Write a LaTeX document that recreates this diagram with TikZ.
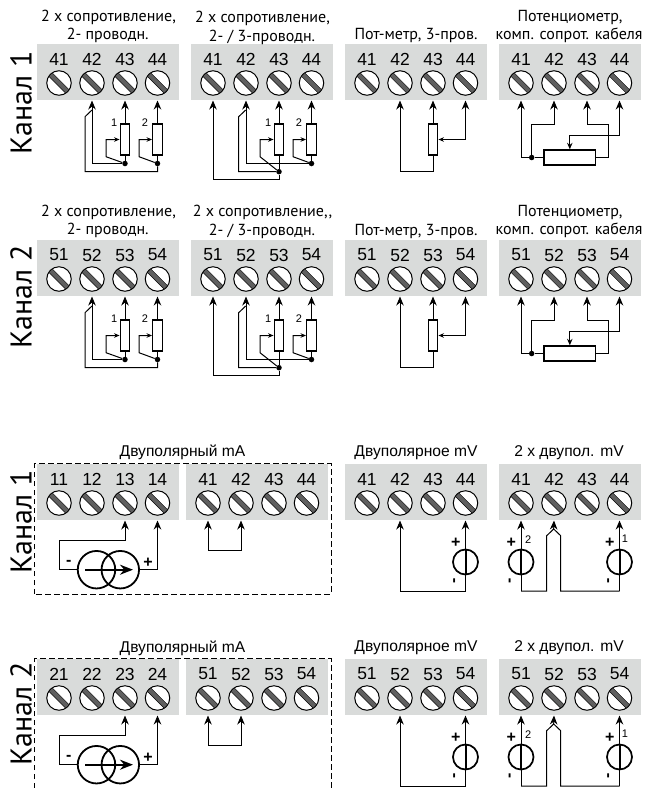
\documentclass[tikz,border=0pt]{standalone}
\usepackage{fontspec}
\setmainfont{Liberation Sans}
\newfontfamily\titlefont{PT Sans}
\usetikzlibrary{arrows.meta}

\definecolor{blockgray}{RGB}{217,219,218}
\definecolor{slotgray}{RGB}{95,95,95}

\tikzset{
  blockbox/.style={fill=blockgray, anchor=north west, minimum width=142pt, minimum height=56pt, inner sep=0pt},
  screw/.style={circle, draw=black, line width=1pt, fill=white, minimum size=24.5pt, inner sep=0pt},
  slotbar/.style={draw=black, line width=0.5pt, fill=slotgray, minimum width=24pt, minimum height=4.8pt, inner sep=0pt},
  termnum/.style={font=\fontsize{17.5}{18}\selectfont, inner sep=0pt},
  headtext/.style={font=\titlefont\fontsize{16}{17}\selectfont, inner sep=0pt},
  headtextb/.style={font=\fontsize{15.6}{16}\selectfont, inner sep=0pt},
  chantext/.style={font=\titlefont\fontsize{30}{31}\selectfont, rotate=90, inner sep=0pt},
  smalltext/.style={font=\fontsize{11}{12}\selectfont, inner sep=0pt},
  signtext/.style={font=\bfseries\fontsize{16}{17}\selectfont, inner sep=0pt},
  wire/.style={line width=1pt},
  bigtip/.style={wire, -{Stealth[length=9pt,width=7.5pt]}},
  smalltip/.style={wire, -{Stealth[length=5.5pt,width=4.5pt]}},
  resbox/.style={draw=black, line width=1.4pt, fill=white, minimum width=9.5pt, minimum height=31pt, inner sep=0pt},
  potbox/.style={draw=black, line width=1.4pt, fill=white, minimum width=51.5pt, minimum height=15pt, inner sep=0pt},
  junction/.style={circle, fill=black, minimum size=5.5pt, inner sep=0pt},
  mvring/.style={circle, draw=black, line width=1.7pt, minimum size=25pt, inner sep=0pt},
  maring/.style={circle, draw=black, line width=1.8pt, minimum size=37.5pt, inner sep=0pt},
  fence/.style={line width=0.8pt, dash pattern=on 5.5pt off 3.5pt}
}

% name, left, top, first digit of the numbers
\newcommand{\terminals}[4]{
  \node[blockbox] (#1) at (#2,#3) {};
  \begin{scope}[shift={(#2,#3)}]
    \foreach \n/\x in {1/22,2/55,3/88,4/120.5}{
      \node[termnum] (#1n\n) at (\x,15) {#4\n};
      \node[screw] (#1s\n) at (\x,39) {};
      \node[slotbar, rotate=-45] (#1b\n) at (\x,39) {};
      \coordinate (#1p\n) at (\x,56.5);
    }
  \end{scope}
}

% the two resistors and what they share
\newcommand{\respair}[1]{
  \node[resbox] (#1r1) at (88,95.5) {};
  \node[resbox] (#1r2) at (120.5,95.5) {};
  \node[smalltext] (#1a1) at (77.3,78.7) {1};
  \node[smalltext] (#1a2) at (108,78.7) {2};
  \coordinate (#1w1) at (69,112.7);
  \coordinate (#1w2) at (102,112.7);
  \draw[bigtip] (#1r1.north) -- (#1p3);
  \draw[bigtip] (#1r2.north) -- (#1p4);
}

\newcommand{\twowire}[1]{
  \begin{scope}[shift={(#1.north west)}]
    \respair{#1}
    \node[junction] (#1d1) at (88,119.5) {};
    \node[junction] (#1d2) at (120.5,119.5) {};
    \coordinate (#1c1) at (120.5,127.7);
    \coordinate (#1k1) at (48,72.7);
    \coordinate (#1k2) at (55,66);
    \draw[wire] (#1r1.south) -- (#1d1);
    \draw[wire] (#1r2.south) -- (#1d2);
    \draw[bigtip] (#1d1) -| (#1p2);
    \draw[wire] (#1d2) -- (#1c1) -| (#1k1) -- (#1k2);
    \draw[smalltip] (#1d1) -- (#1w1) |- (#1r1.west);
    \draw[smalltip] (#1d2) -- (#1w2) |- (#1r2.west);
  \end{scope}
}

\newcommand{\threewire}[1]{
  \begin{scope}[shift={(#1.north west)}]
    \respair{#1}
    \node[junction] (#1d1) at (88,127.7) {};
    \node[junction] (#1d2) at (120.5,119.5) {};
    \coordinate (#1c1) at (88,135);
    \coordinate (#1k1) at (47.7,72.7);
    \coordinate (#1k2) at (54.7,66);
    \draw[wire] (#1r1.south) -- (#1d1);
    \draw[wire] (#1r2.south) -- (#1d2);
    \draw[bigtip] (#1d2) -| (#1p2);
    \draw[bigtip] (#1d1) -- (#1c1) -| (#1p1);
    \draw[wire] (#1d1) -| (#1k1) -- (#1k2);
    \draw[smalltip] (#1d1) -- (#1w1) |- (#1r1.west);
    \draw[smalltip] (#1d2) -- (#1w2) |- (#1r2.west);
  \end{scope}
}

\newcommand{\potthree}[1]{
  \begin{scope}[shift={(#1.north west)}]
    \node[resbox] (#1r1) at (88,95.5) {};
    \coordinate (#1c1) at (88,127.7);
    \coordinate (#1c2) at (120.5,95.5);
    \draw[bigtip] (#1r1.north) -- (#1p3);
    \draw[bigtip] (#1r1.south) -- (#1c1) -| (#1p2);
    \draw[bigtip] (#1c2) -- (#1p4);
    \draw[smalltip] (#1c2) -- (#1r1.east);
  \end{scope}
}

\newcommand{\potcomp}[1]{
  \begin{scope}[shift={(#1.north west)}]
    \node[potbox] (#1r1) at (70.8,113.5) {};
    \node[junction] (#1d1) at (32.7,113.5) {};
    \coordinate (#1c1) at (109.3,113.5);
    \coordinate (#1c2) at (109.3,80);
    \coordinate (#1c3) at (32.7,80);
    \coordinate (#1c4) at (70.8,91);
    \draw[bigtip] (#1r1.west) -- (#1d1) -| (#1p1);
    \draw[bigtip] (#1d1) -- (#1c3) -| (#1p2);
    \draw[bigtip] (#1r1.east) -- (#1c1) -- (#1c2) -| (#1p3);
    \draw[bigtip] (#1c4) -| (#1p4);
    \draw[wire, -{Stealth[length=6.5pt,width=5.5pt]}] (#1c4) -- (#1r1.north);
  \end{scope}
}

% signs and ring of one mV source
\newcommand{\mvsource}[2]{
  \node[mvring] (#1v) at (#2,98) {};
  \draw[line width=2pt] (#1v.north) -- (#1v.south);
  \node[signtext] (#1plus) at ([xshift=-9.7pt,yshift=19pt]#1v.center) {+};
  \node[signtext, rotate=90] (#1minus) at ([xshift=-9.7pt,yshift=-18.5pt]#1v.center) {-};
}

\newcommand{\mvone}[1]{
  \begin{scope}[shift={(#1.north west)}]
    \mvsource{#1}{120.5}
    \coordinate (#1c1) at (120.5,127);
    \draw[bigtip] (#1c1) -- (#1p4);
    \draw[bigtip] (#1c1) -| (#1p2);
  \end{scope}
}

\newcommand{\mvtwo}[1]{
  \begin{scope}[shift={(#1.north west)}]
    \mvsource{#1a}{22}
    \mvsource{#1b}{120.5}
    \node[smalltext] (#1l2) at (29.3,75.5) {2};
    \node[smalltext] (#1l1) at (126,75) {1};
    \coordinate (#1c1) at (22,127);
    \coordinate (#1c2) at (47.7,127);
    \coordinate (#1c3) at (47.7,71.7);
    \coordinate (#1c4) at (61.7,127);
    \coordinate (#1c5) at (61.7,71.7);
    \coordinate (#1c6) at (120.5,127);
    \coordinate (#1c7) at (54.7,65);
    \draw[bigtip] (#1c1) -- (#1p1);
    \draw[bigtip] (#1c6) -- (#1p4);
    \draw[wire] (#1c1) -- (#1c2) -- (#1c3) -- (#1c7) -- (#1c5) -- (#1c4) -- (#1c6);
    \draw[bigtip] (#1c7) -- (#1p2);
  \end{scope}
}

\newcommand{\maloop}[2]{
  \begin{scope}[shift={(#1.north west)}]
    \node[maring] (#1m1) at (59.5,105.7) {};
    \node[maring] (#1m2) at (83.3,105.7) {};
    \node[signtext] (#1plus) at (111,99) {+};
    \node[signtext] (#1minus) at (31.7,98.5) {-};
    \coordinate (#1c1) at (22.7,76.7);
    \coordinate (#1a1) at (48.3,105.7);
    \coordinate (#1a2) at (96,105.7);
    \draw[bigtip] (#1m1.west) -| (#1c1) -| (#1p3);
    \draw[bigtip] (#1m2.east) -| (#1p4);
    \draw[line width=1.8pt, -{Stealth[length=13pt,width=10pt]}] (#1a1) -- (#1a2);
  \end{scope}
  \begin{scope}[shift={(#2.north west)}]
    \coordinate (#2c1) at (22,86.3);
    \draw[bigtip] (#2c1) -- (#2p1);
    \draw[bigtip] (#2c1) -| (#2p2);
  \end{scope}
}

\begin{document}
\begin{tikzpicture}[x=1pt, y=-1pt]
  \useasboundingbox (0,0) rectangle (646,788);

  % resistance rows
  \foreach \rowname/\rowtop/\dig in {u/44/4,v/240/5}{
    \terminals{\rowname a}{37}{\rowtop}{\dig}
    \terminals{\rowname b}{191}{\rowtop}{\dig}
    \terminals{\rowname c}{345}{\rowtop}{\dig}
    \terminals{\rowname d}{499}{\rowtop}{\dig}
    \twowire{\rowname a}
    \threewire{\rowname b}
    \potthree{\rowname c}
    \potcomp{\rowname d}
  }

  % current and voltage rows
  \foreach \rowname/\rowtop/\digone/\digtwo in {w/464/1/4,z/659/2/5}{
    \terminals{\rowname a}{37}{\rowtop}{\digone}
    \terminals{\rowname e}{186}{\rowtop}{\digtwo}
    \terminals{\rowname c}{345}{\rowtop}{\digtwo}
    \terminals{\rowname d}{499}{\rowtop}{\digtwo}
    \maloop{\rowname a}{\rowname e}
    \mvone{\rowname c}
    \mvtwo{\rowname d}
  }

  \coordinate (f1) at (34.7,594);
  \coordinate (f2) at (331,594);
  \coordinate (f3) at (34.7,788);
  \coordinate (f4) at (331,788);
  \coordinate (f5) at (331,463.7);
  \coordinate (f6) at (331,658.7);
  \draw[fence] (f1) |- (f5) -- (f2) -- cycle;
  \draw[fence] (f3) |- (f6) -- (f4);

  \node[chantext] (ch1) at (21,102.7) {Канал 1};
  \node[chantext] (ch2) at (21,296.7) {Канал 2};
  \node[chantext] (ch3) at (21,521.7) {Канал 1};
  \node[chantext] (ch4) at (21,714) {Канал 2};

  \node[headtext] (t1) at (108.5,17.7) {2 х сопротивление,};
  \node[headtext] (t2) at (107.7,35) {2- проводн.};
  \node[headtext] (t3) at (262.5,18.3) {2 х сопротивление,};
  \node[headtext] (t4) at (262,37) {2- / 3-проводн.};
  \node[headtext] (t5) at (416,35) {Пот-метр, 3-пров.};
  \node[headtext] (t6) at (570,17) {Потенциометр,};
  \node[headtext] (t7) at (569,35) {комп. сопрот. кабеля};

  \node[headtext] (t8) at (108.5,212) {2 х сопротивление,};
  \node[headtext] (t9) at (107.7,230) {2- проводн.};
  \node[headtext] (t10) at (262.5,212) {2 х сопротивление,,};
  \node[headtext] (t11) at (262,231) {2- / 3-проводн.};
  \node[headtext] (t12) at (416,231) {Пот-метр, 3-пров.};
  \node[headtext] (t13) at (570,212) {Потенциометр,};
  \node[headtext] (t14) at (569,230) {комп. сопрот. кабеля};

  \node[headtextb] (t15) at (182.5,452) {Двуполярный mA};
  \node[headtextb] (t16) at (416,453) {Двуполярное mV};
  \node[headtextb] (t17) at (569,453) {2 х двупол. mV};
  \node[headtextb] (t18) at (182.5,648) {Двуполярный mA};
  \node[headtextb] (t19) at (416,648) {Двуполярное mV};
  \node[headtextb] (t20) at (569,648) {2 х двупол. mV};
\end{tikzpicture}
\end{document}
